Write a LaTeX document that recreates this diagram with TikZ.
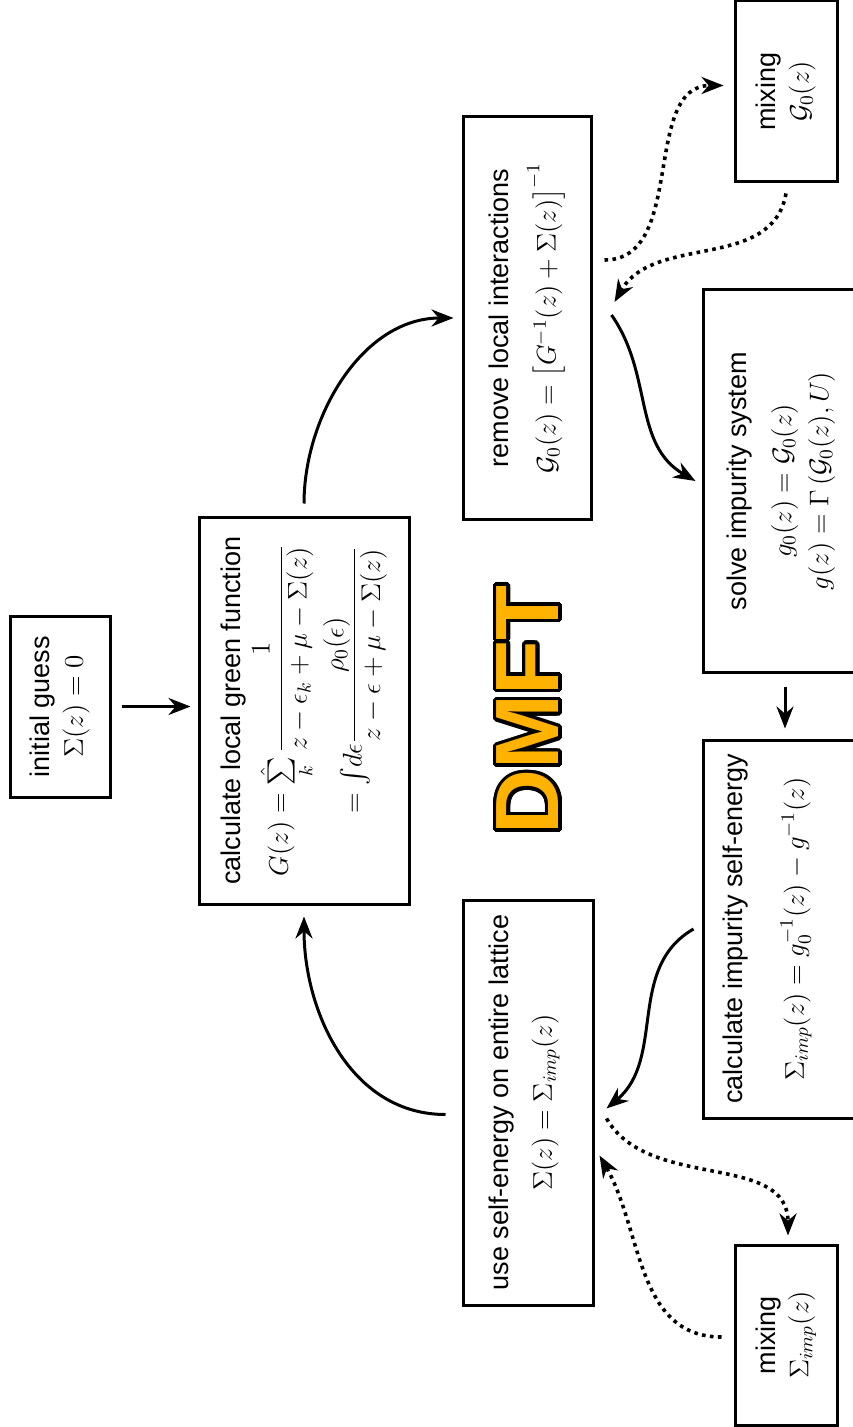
\RequirePackage{fix-cm}
\documentclass[tikz,border=0pt]{standalone}
\usepackage{amsmath}
\usepackage{amssymb}
\usepackage[no-math]{fontspec}
\setmainfont{Liberation Sans}
\usetikzlibrary{shapes.geometric, arrows.meta}
\definecolor{dmftorange}{RGB}{255,178,0}

\begin{document}
\begin{tikzpicture}[x=0.5pt, y=0.5pt, font=\fontsize{13.5}{16.5}\selectfont]
		\tikzstyle{process} = [rectangle, draw=black, line width=1.5pt, rotate=90, align=center, inner sep=0pt]
		
		\tikzstyle{dmftlabel} = [rotate=90, inner sep=0pt, font=\fontsize{45}{45}\selectfont\bfseries]
		
		\tikzstyle{arrow} = [-{Stealth[length=11pt, width=8.5pt]}, line width=1.5pt]
		\tikzstyle{dotarrow} = [arrow, line width=1.8pt, dash pattern=on 1.8pt off 2.2pt]
		
		\useasboundingbox (0,0) rectangle (852,-1427);
		
		% Main loop boxes
		\node (init) [process, minimum width=90.5pt, minimum height=50pt] at (60,-706.5) {initial guess\\ $\Sigma(z) = 0$};
		\node (green) [process, minimum width=193.5pt, minimum height=105pt] at (304,-710.5) {calculate local green function\\[2pt]
			$\begin{aligned} G(z) &= \mathop{\textstyle\hat{\sum}}\limits_{k} \dfrac{1}{z-\epsilon_k+\mu-\Sigma(z)}\\ &= {\textstyle\int} d\epsilon \dfrac{\rho_0(\epsilon)}{z-\epsilon+\mu-\Sigma(z)} \end{aligned}$};
		\node (remove) [process, minimum width=201pt, minimum height=64pt] at (527,-318) {remove local interactions\\[7pt] $\mathcal{G}_0(z) = \big[G^{-1}(z) + \Sigma(z)\big]^{-1}$};
		\node (solve) [process, minimum width=191pt, minimum height=78pt] at (781,-481) {solve impurity system\\[6pt] $g_0(z) = \mathcal{G}_0(z)$\\[2pt] $g(z) = \Gamma\left(\mathcal{G}_0(z), U\right)$};
		\node (calcimp) [process, minimum width=189pt, minimum height=78pt, text depth=17.5pt] at (781,-929) {calculate impurity self-energy\\[14pt] $\Sigma_{imp}(z) = g_0^{-1}(z) - g^{-1}(z)$};
		\node (use) [process, minimum width=202.5pt, minimum height=65pt, text depth=7.5pt] at (528,-1102.5) {use self-energy on entire lattice\\[5pt] $\Sigma(z) = \Sigma_{imp}(z)$};
		
		% Mixing boxes
		\node (mixG) [process, minimum width=90.5pt, minimum height=51pt] at (786,-91.5) {mixing\\ $\mathcal{G}_0(z)$};
		\node (mixS) [process, minimum width=90pt, minimum height=51pt] at (786,-1335) {mixing\\ $\Sigma_{imp}(z)$};
		
		% Title
		\foreach \a in {0,20,...,340}
			\node (dmftrim\a) [dmftlabel, text=black, shift={(\a:3.8)}] at (528,-710) {DMFT};
		\node (dmft) [dmftlabel, text=dmftorange] at (528,-710) {DMFT};
		
		% Arrows
		\draw [arrow, shorten <=5pt, shorten >=3.5pt] (init.south) -- (init.south -| green.north);
		\draw [arrow, shorten <=6pt, shorten >=4pt] (green.east) to[out=90, in=180] (remove.north);
		\draw [arrow] ([xshift=9.5pt, yshift=1.5pt]remove.south) to[out=-55, in=150] ([xshift=-3pt]solve.north);
		\draw [arrow, shorten <=6.5pt, shorten >=5pt] ([xshift=2pt]solve.west) -- ([xshift=2pt]calcimp.east);
		\draw [arrow] ([xshift=-4pt]calcimp.north) to[out=-150, in=40] ([xshift=6pt, yshift=-3pt]use.south);
		\draw [arrow] ([xshift=-8pt, yshift=-6pt]use.north) to[out=180, in=-90] ([yshift=-5.5pt]green.west);
		
		% Mixing arrows
		\draw [dotarrow] ([xshift=6pt, yshift=29pt]remove.south) to[out=0, in=180] ([xshift=-5pt, yshift=3pt]mixG.north);
		\draw [dotarrow] ([yshift=-5pt]mixG.west) to[out=-100, in=60] ([xshift=11pt, yshift=8pt]remove.south);
		\draw [dotarrow] ([xshift=6pt, yshift=-8pt]use.south) to[out=-60, in=90] ([xshift=1pt, yshift=4pt]mixS.east);
		\draw [dotarrow] ([xshift=-6pt, yshift=-1pt]mixS.north) to[out=180, in=-60] ([xshift=2.5pt, yshift=-26.5pt]use.south);
		
\end{tikzpicture}
\end{document}
